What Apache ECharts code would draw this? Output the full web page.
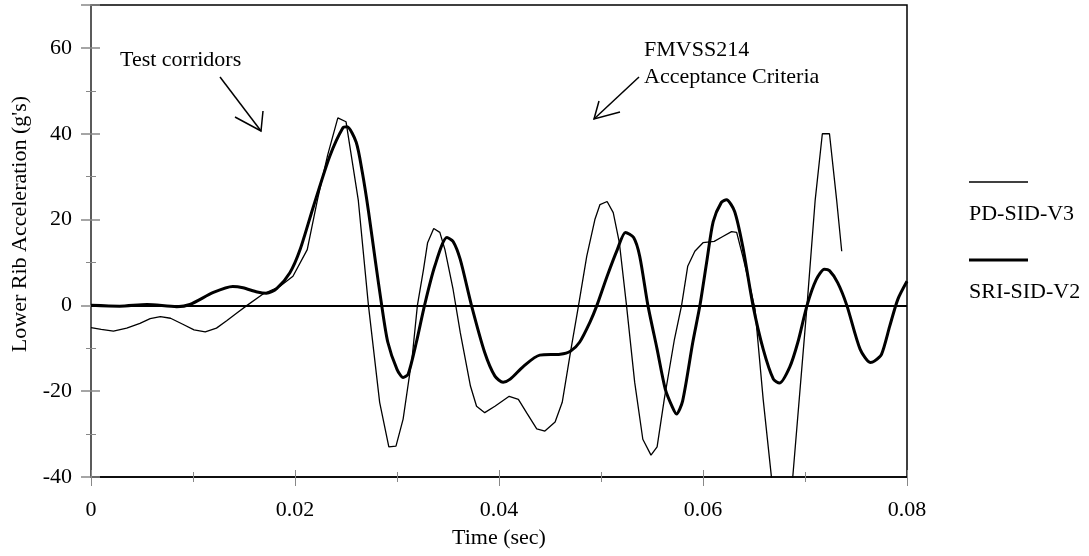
<!DOCTYPE html>
<html>
<head>
<meta charset="utf-8">
<script src="https://cdn.jsdelivr.net/npm/echarts@6/dist/echarts.min.js"></script>
<style>
html,body{margin:0;padding:0;background:#fff;}
#chart{width:1089px;height:556px;}
</style>
</head>
<body>
<div id="chart"></div>
<script>
// ---- Data ----
var seriesNames = ['PD-SID-V3', 'SRI-SID-V2'];
var xTickValues = [0, 0.02, 0.04, 0.06, 0.08];
var yTickValues = [-40, -20, 0, 20, 40, 60];

var pdTime = [0, 0.001, 0.0022, 0.0035, 0.0048, 0.0058, 0.0068, 0.0078, 0.009, 0.0101, 0.0112, 0.0123, 0.0133, 0.0143, 0.0153, 0.0169, 0.0185, 0.0198, 0.0212, 0.0222, 0.0232, 0.0242, 0.025, 0.0262, 0.0272, 0.0283, 0.0292, 0.0299, 0.0306, 0.0315, 0.032, 0.0326, 0.033, 0.0336, 0.0342, 0.0347, 0.0355, 0.0362, 0.0372, 0.0378, 0.0386, 0.0396, 0.041, 0.0419, 0.0427, 0.0437, 0.0445, 0.0455, 0.0462, 0.047, 0.0478, 0.0486, 0.0494, 0.0499, 0.0506, 0.0512, 0.0518, 0.0525, 0.0533, 0.0541, 0.0549, 0.0555, 0.0562, 0.0572, 0.0579, 0.0585, 0.0592, 0.06, 0.0611, 0.0619, 0.0628, 0.0633, 0.0639, 0.0646, 0.0651, 0.0659, 0.0667, 0.0677, 0.0688, 0.0702, 0.071, 0.0717, 0.0724, 0.0731, 0.0736];
var pdAccel = [-5.2, -5.6, -6.0, -5.3, -4.2, -3.1, -2.6, -3.0, -4.4, -5.7, -6.2, -5.3, -3.6, -1.8, 0, 2.7, 4.4, 6.8, 13, 24.6, 35, 43.7, 42.8, 24.6, 0, -22.6, -33, -32.8, -26.5, -11.8, 0, 8.4, 14.6, 17.9, 17, 13, 3.7, -6.3, -18.8, -23.5, -25, -23.5, -21.2, -21.9, -25, -28.8, -29.3, -27.2, -22.6, -11, 0, 11.4, 20, 23.5, 24.2, 21.6, 14.6, 0, -17.9, -31.2, -34.9, -33, -21.9, -7.9, 0, 9.1, 12.6, 14.6, 14.9, 16, 17.2, 17, 11.4, 4.4, -0.9, -21.9, -39.8, -58, -40, 0, 24.6, 40, 40, 24.6, 12.6];

var sriTime = [0, 0.0028, 0.0055, 0.0084, 0.0097, 0.012, 0.0139, 0.0149, 0.0163, 0.0172, 0.0182, 0.0195, 0.0205, 0.0218, 0.0234, 0.0247, 0.0251, 0.026, 0.0266, 0.0272, 0.0279, 0.0285, 0.0291, 0.03, 0.0306, 0.0311, 0.0319, 0.0327, 0.0337, 0.0349, 0.0355, 0.0362, 0.0373, 0.0386, 0.0396, 0.0404, 0.0411, 0.0424, 0.044, 0.046, 0.047, 0.0479, 0.0489, 0.0496, 0.0506, 0.0516, 0.0524, 0.0532, 0.0538, 0.0546, 0.0555, 0.0563, 0.057, 0.0574, 0.058, 0.059, 0.0597, 0.0604, 0.061, 0.0618, 0.0623, 0.0631, 0.0639, 0.0649, 0.0659, 0.0669, 0.0675, 0.0685, 0.0693, 0.0702, 0.0711, 0.0719, 0.0724, 0.0732, 0.0741, 0.0754, 0.0764, 0.0768, 0.0775, 0.0783, 0.0791, 0.08];
var sriAccel = [0, -0.2, 0.2, -0.3, 0.2, 3, 4.4, 4.1, 3.1, 2.8, 3.9, 7.6, 13, 23, 34.7, 41.4, 41.6, 38, 31, 22, 10, 0, -8.6, -14.9, -16.8, -16, -8.6, 0, 9.1, 15.8, 14.9, 10.7, 0, -11, -16.5, -17.9, -17.2, -14.2, -11.6, -11.4, -10.7, -8.6, -4, 0, 6.8, 13, 17, 15.8, 11.4, 0, -10.2, -19.5, -23.7, -25.3, -22.3, -8.6, 0, 10.7, 19.5, 24, 24.6, 21.9, 13.7, 0, -10.2, -17.2, -18.1, -14.4, -8.6, 0, 6, 8.4, 8.1, 5.3, 0, -10.2, -13.3, -13, -11.4, -4.9, 1.4, 5.6];

function zip(a, b) { return a.map(function (v, i) { return [v, b[i]]; }); }

var FONT = '"Liberation Serif", "Times New Roman", serif';
var FS = 22;
var TICK = '#888888';

var chart = echarts.init(document.getElementById('chart'), null, {renderer: 'canvas'});

function fmtX(v) { return Math.abs(v) < 1e-9 ? '0' : String(+v.toFixed(2)); }
function fmtY(v) { return yTickValues.indexOf(Math.round(v)) >= 0 ? String(Math.round(v)) : ''; }

var option = {
  backgroundColor: '#ffffff',
  animation: false,
  grid: {
    left: 91, top: 5, right: 182, bottom: 79,
    show: true, borderColor: '#000', borderWidth: 1.5, backgroundColor: 'transparent'
  },
  xAxis: [{
    type: 'value', min: 0, max: 0.08, interval: 0.02, position: 'bottom',
    name: 'Time (sec)', nameLocation: 'middle', nameGap: 50,
    nameTextStyle: {fontFamily: FONT, fontSize: FS, color: '#000'},
    axisLine: {show: true, onZero: false, lineStyle: {color: '#000', width: 1.5}},
    axisTick: {show: true, length: 9, lineStyle: {color: TICK, width: 1}},
    minorTick: {show: true, splitNumber: 2, length: 5, lineStyle: {color: TICK, width: 1}},
    splitLine: {show: false},
    axisLabel: {fontFamily: FONT, fontSize: FS, color: '#000', margin: 22, formatter: fmtX}
  }, {
    type: 'value', min: 0, max: 0.08, interval: 0.02, position: 'bottom',
    axisLine: {show: false, onZero: false},
    axisTick: {show: true, inside: true, length: 7, lineStyle: {color: TICK, width: 1}},
    minorTick: {show: true, splitNumber: 2, length: 5, lineStyle: {color: TICK, width: 1}},
    splitLine: {show: false}, axisLabel: {show: false}
  }],
  yAxis: [{
    type: 'value', min: -40, max: 70, interval: 20, position: 'left',
    name: "Lower Rib Acceleration (g's)", nameLocation: 'middle', nameGap: 60,
    nameRotate: 90,
    nameTextStyle: {fontFamily: FONT, fontSize: FS, color: '#000', padding: [0, 0, 0, 34]},
    axisLine: {show: true, onZero: false, lineStyle: {color: '#666', width: 1.5}},
    axisTick: {show: true, length: 10, lineStyle: {color: TICK, width: 1.5}},
    minorTick: {show: true, splitNumber: 2, length: 5, lineStyle: {color: TICK, width: 1}},
    splitLine: {show: false},
    axisLabel: {fontFamily: FONT, fontSize: FS, color: '#000', margin: 19, formatter: fmtY}
  }, {
    type: 'value', min: -40, max: 70, interval: 20, position: 'left',
    axisLine: {show: false, onZero: false},
    axisTick: {show: true, inside: true, length: 9, lineStyle: {color: TICK, width: 1.5}},
    minorTick: {show: true, splitNumber: 2, length: 5, lineStyle: {color: TICK, width: 1}},
    splitLine: {show: false}, axisLabel: {show: false}
  }],
  series: [{
    name: seriesNames[0], type: 'line', xAxisIndex: 0, yAxisIndex: 0,
    data: zip(pdTime, pdAccel), showSymbol: false, symbol: 'none', clip: true,
    lineStyle: {color: '#000', width: 1.3}, z: 3,
    markLine: {
      silent: true, symbol: 'none', label: {show: false},
      lineStyle: {color: '#000', width: 2, type: 'solid'},
      data: [{yAxis: 0}]
    }
  }, {
    name: seriesNames[1], type: 'line', xAxisIndex: 0, yAxisIndex: 0,
    data: zip(sriTime, sriAccel), showSymbol: false, symbol: 'none', clip: true,
    smooth: 0.25,
    lineStyle: {color: '#000', width: 3}, z: 4
  }],
  graphic: [
    // legend
    {type: 'line', shape: {x1: 969, y1: 182, x2: 1028, y2: 182}, style: {stroke: '#000', lineWidth: 1.3}},
    {type: 'text', left: 969, top: 203, style: {text: seriesNames[0], font: FS + 'px ' + FONT, fill: '#000'}},
    {type: 'line', shape: {x1: 969, y1: 260, x2: 1028, y2: 260}, style: {stroke: '#000', lineWidth: 3}},
    {type: 'text', left: 969, top: 281, style: {text: seriesNames[1], font: FS + 'px ' + FONT, fill: '#000'}},
    // annotations
    {type: 'text', left: 120, top: 49, style: {text: 'Test corridors', font: FS + 'px ' + FONT, fill: '#000'}},
    {type: 'polyline', shape: {points: [[220, 77], [261, 131]]}, style: {stroke: '#000', lineWidth: 1.5, fill: null}},
    {type: 'polyline', shape: {points: [[235, 117], [261, 131], [263, 111]]}, style: {stroke: '#000', lineWidth: 1.5, fill: null}},
    {type: 'text', left: 644, top: 39, style: {text: 'FMVSS214', font: FS + 'px ' + FONT, fill: '#000'}},
    {type: 'text', left: 644, top: 66, style: {text: 'Acceptance Criteria', font: FS + 'px ' + FONT, fill: '#000'}},
    {type: 'polyline', shape: {points: [[639, 77], [594, 119]]}, style: {stroke: '#000', lineWidth: 1.5, fill: null}},
    {type: 'polyline', shape: {points: [[599, 101], [594, 119], [620, 112]]}, style: {stroke: '#000', lineWidth: 1.5, fill: null}}
  ]
};
chart.setOption(option);
</script>
</body>
</html>
